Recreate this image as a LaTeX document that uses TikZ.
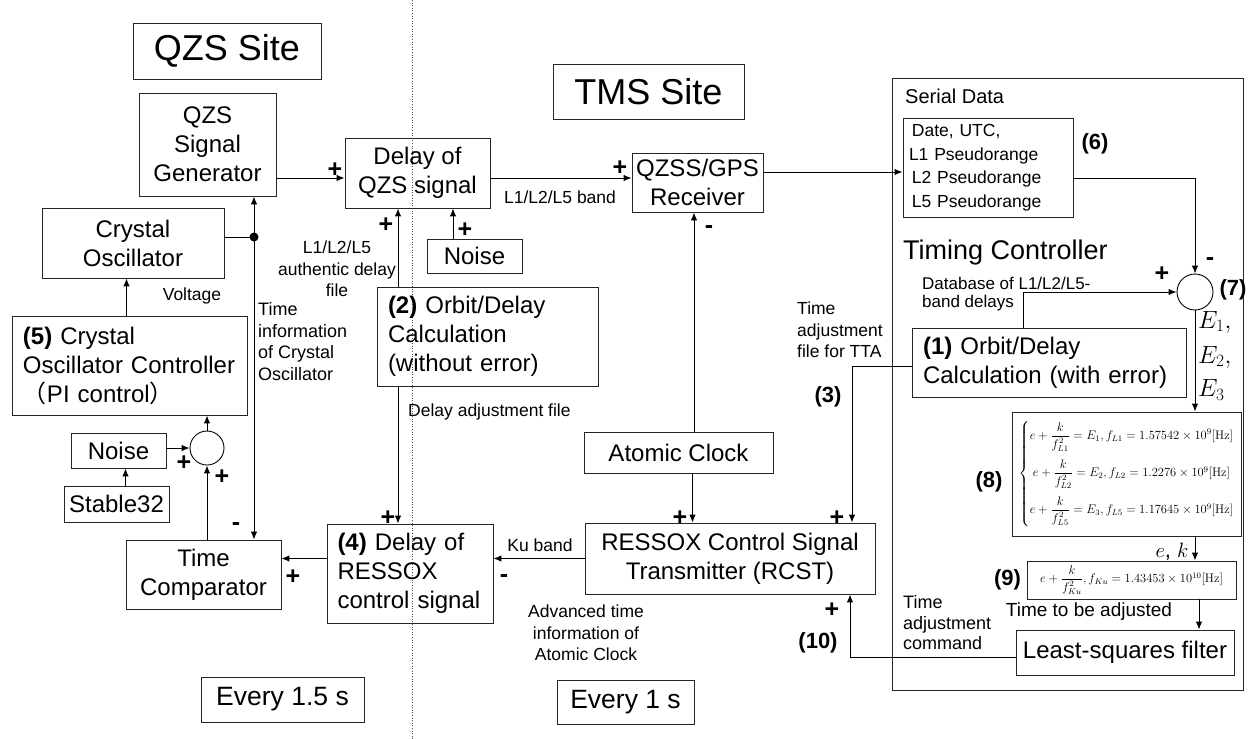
\documentclass[tikz,border=0pt]{standalone}
\usepackage{amsmath}
\usepackage{graphicx}
\usepackage[no-math]{fontspec}
\setmainfont{Liberation Sans}
\newfontfamily\cjk{Noto Sans CJK JP}
\usetikzlibrary{arrows.meta,calc}
\begin{document}
\begin{tikzpicture}[x=1pt,y=-1pt,
  box/.style={draw=black!85, line width=0.9pt, inner sep=0pt, align=center, font=\fontsize{24}{29}\selectfont},
  lbl/.style={inner sep=0pt, font=\fontsize{17.5}{21.5}\selectfont},
  bnum/.style={inner sep=0pt, font=\fontsize{22}{26}\selectfont\bfseries},
  sgn/.style={inner sep=0pt, font=\fontsize{25}{25}\selectfont\bfseries},
  arr/.style={line width=1pt, -{Latex[length=8pt,width=6.5pt]}},
  ln/.style={line width=1pt},
  sumc/.style={draw=black, line width=0.9pt, circle, minimum size=34pt, inner sep=0pt},
]
\useasboundingbox (0,0) rectangle (1251,739);
\fill[white] (0,0) rectangle (1251,739);
\draw[dotted, line width=0.6pt, black!70] (412,0) -- (412,739);

% ---------- QZS site ----------
\node[box, minimum width=188, minimum height=56, font=\fontsize{36}{40}\selectfont] (qzs) at (227,51) {QZS Site};
\node[box, minimum width=137, minimum height=103] (siggen) at (207.5,144.5) {QZS\\Signal\\Generator};
\node[box, minimum width=182, minimum height=70] (crystal) at (133,243) {Crystal\\Oscillator};
\node[box, minimum height=99, text width=213, inner xsep=11pt, align=left] (ctrl) at (129.5,365.5) {\textbf{(5)} Crystal\\Oscillator Controller\\{\cjk （}PI control{\cjk ）}};
\node[box, minimum width=95, minimum height=35] (noise1) at (118.5,450.5) {Noise};
\node[sumc] (sum1) at (207,448) {};
\node[box, minimum width=105, minimum height=36] (stable) at (116.5,504) {Stable32};
\node[box, minimum width=155, minimum height=69] (tcomp) at (203.5,574.5) {Time\\Comparator};
\node[box, minimum width=163, minimum height=45, font=\fontsize{26.5}{30}\selectfont] (ev15) at (282.5,699.5) {Every 1.5 s};

\node[box, minimum width=145, minimum height=70] (delay) at (417.5,173) {Delay of\\QZS signal};
\node[box, minimum width=95, minimum height=34] (noise2) at (474.5,256) {Noise};
\node[box, minimum height=99, text width=199, inner xsep=11pt, align=left] (orb2) at (487.5,336.5) {\textbf{(2)} Orbit/Delay\\Calculation\\(without error)};
\node[box, minimum height=99, text width=145, inner xsep=10.5pt, align=left] (del4) at (410,573.5) {\textbf{(4)} Delay of\\RESSOX\\control signal};

% ---------- TMS site ----------
\node[box, minimum width=191, minimum height=55, font=\fontsize{36}{40}\selectfont] (tms) at (648.5,91.5) {TMS Site};
\node[box, minimum width=131, minimum height=59] (rcv) at (697.5,182.5) {QZSS/GPS\\Receiver};
\node[box, minimum width=189, minimum height=41] (atomic) at (678.5,452.5) {Atomic Clock};
\node[box, minimum width=290, minimum height=71] (rcst) at (730,558.5) {RESSOX Control Signal\\Transmitter (RCST)};
\node[box, minimum width=137, minimum height=44, font=\fontsize{26.5}{30}\selectfont] (ev1) at (625.5,702) {Every 1 s};

% ---------- Timing controller ----------
\node[box, minimum width=351, minimum height=612] (tc) at (1067.5,384) {};
\node[lbl, anchor=west, font=\fontsize{20}{24}\selectfont] (serlbl) at (905,96) {Serial Data};
\node[box, minimum height=99, text width=158, inner xsep=6pt, align=left, font=\fontsize{17.5}{23.5}\selectfont] (serial) at (988,167.5) {\,Date, UTC,\\L1 Pseudorange\\\,L2 Pseudorange\\\,L5 Pseudorange};
\node[lbl, anchor=west, font=\fontsize{27}{30}\selectfont] (tclbl) at (903,253) {Timing Controller};
\node[lbl, anchor=west, align=left, font=\fontsize{17}{18.5}\selectfont] (dblbl) at (922,294) {Database of L1/L2/L5-\\band delays};
\node[sumc, minimum size=36pt] (sum7) at (1195,292) {};
\node[box, minimum height=69, text width=252, inner xsep=11pt, align=left] (orb1) at (1049,362.5) {\textbf{(1)} Orbit/Delay\\Calculation (with error)};
\node[box, minimum width=229, minimum height=124] (eq8) at (1126.5,474) {\scalebox{1.04}{\fontsize{12}{14}\selectfont$\left\{\begin{array}{@{}c@{}}
e+\dfrac{k}{f_{L1}^{2}}=E_1, f_{L1}=1.57542\times10^{9}[\mathrm{Hz}]\\[15pt]
e+\dfrac{k}{f_{L2}^{2}}=E_2, f_{L2}=1.2276\times10^{9}[\mathrm{Hz}]\\[15pt]
e+\dfrac{k}{f_{L5}^{2}}=E_3, f_{L5}=1.17645\times10^{9}[\mathrm{Hz}]
\end{array}\right.$}};
\node[box, minimum width=209, minimum height=38] (eq9) at (1131.5,580) {\scalebox{1.04}{\fontsize{12}{14}\selectfont$e+\dfrac{k}{f_{Ku}^{2}}, f_{Ku}=1.43453\times10^{10}[\mathrm{Hz}]$}};
\node[box, minimum width=218, minimum height=45] (ls) at (1125,652.5) {Least-squares filter};

% ---------- coordinates ----------
\coordinate (dot) at (254,237);
\coordinate (v2) at (398,0);

% ---------- connectors ----------
\draw[arr] ([yshift=-5pt]delay.west -| siggen.east) -- ([yshift=-5pt]delay.west);
\draw[ln] (crystal.east |- dot) -- (dot);
\fill (dot) circle (4.5pt);
\draw[arr] (dot) -- (dot |- siggen.south);
\draw[arr] (dot) -- (dot |- tcomp.north);
\draw[arr] ([xshift=-3pt]ctrl.north) -- ([xshift=-3pt]ctrl.north |- crystal.south);
\draw[arr] (sum1.north) -- (sum1.north |- ctrl.south);
\draw[arr] (noise1.east |- sum1.west) -- (sum1.west);
\draw[arr] ([xshift=9pt]stable.north) -- ([xshift=9pt]stable.north |- noise1.south);
\draw[arr] (sum1.south |- tcomp.north) -- (sum1.south);
\draw[arr] (del4.west |- rcst.west) -- (tcomp.east |- rcst.west);
\draw[arr] (v2 |- orb2.north) -- (v2 |- delay.south);
\draw[arr] (v2 |- orb2.south) -- (v2 |- del4.north);
\draw[arr] ([xshift=-21.5pt]noise2.north) -- ([xshift=-21.5pt]noise2.north |- delay.south);
\draw[arr] ([yshift=-5pt]delay.east) -- ([yshift=-5pt]delay.east -| rcv.west);
\draw[arr] ([xshift=-3.5pt]rcv.south |- atomic.north) -- ([xshift=-3.5pt]rcv.south);
\draw[arr] ([xshift=14pt]atomic.south) -- ([xshift=14pt]atomic.south |- rcst.north);
\draw[arr] (rcst.west) -- (rcst.west -| del4.east);
\draw[arr] ([yshift=10.5pt]rcv.east) -- ([yshift=10.5pt]rcv.east -| serial.west);
\draw[arr] ([yshift=-10.5pt]serial.east) -| (sum7.north);
\draw[arr] ([xshift=-26pt]orb1.north) |- (sum7.west);
\draw[arr] (sum7.south) -- (sum7.south |- eq8.north);
\draw[arr] ([yshift=-3.5pt]orb1.west) -| ([xshift=122pt]rcst.north);
\draw[arr] (sum7.south |- eq8.south) -- (sum7.south |- eq9.north);
\draw[arr] ([xshift=67.5pt]eq9.south) -- ([xshift=67.5pt]eq9.south |- ls.north);
\draw[arr] ([yshift=-4.5pt]ls.west) -| ([xshift=120pt]rcst.south);

% ---------- labels ----------
\node[lbl, align=center] (l1) at (337,269) {L1/L2/L5\\authentic delay\\file};
\node[lbl] (l2) at (192,296) {Voltage};
\node[lbl, anchor=west, align=left, font=\fontsize{18}{21.7}\selectfont] (l3) at (258,341.5) {Time\\information\\of Crystal\\Oscillator};
\node[lbl, anchor=west] (l4) at (408,412) {Delay adjustment file};
\node[lbl] (l5) at (560,197) {L1/L2/L5 band};
\node[lbl] (l6) at (540,545) {Ku band};
\node[lbl, align=center] (l7) at (586,633) {Advanced time\\information of\\Atomic Clock};
\node[lbl, anchor=west, align=left] (l8) at (797,330) {Time\\adjustment\\file for TTA};
\node[lbl, anchor=west, align=left, font=\fontsize{18}{20.5}\selectfont] (l9) at (903,623) {Time\\adjustment\\command};
\node[lbl, font=\fontsize{19}{22}\selectfont] (l10) at (1089,612) {Time to be adjusted};
\node[lbl, font=\fontsize{22}{26}\selectfont] (l11) at (1172,552) {$e$, $k$};
\node[lbl, anchor=west, font=\fontsize{24}{28}\selectfont] (e1) at (1198,322) {$E_1,$};
\node[lbl, anchor=west, font=\fontsize{24}{28}\selectfont] (e2) at (1198,357) {$E_2,$};
\node[lbl, anchor=west, font=\fontsize{24}{28}\selectfont] (e3) at (1198,390) {$E_3$};

\node[bnum] (n6) at (1095,144) {(6)};
\node[bnum] (n7) at (1233,290) {(7)};
\node[bnum] (n8) at (989,482) {(8)};
\node[bnum] (n9) at (1007.5,580) {(9)};
\node[bnum] (n3) at (828,397) {(3)};
\node[bnum] (n10) at (818,643) {(10)};

% ---------- signs ----------
\node[sgn] (s1) at (335,170) {+};
\node[sgn] (s2) at (620,168) {+};
\node[sgn] (s3) at (386,225) {+};
\node[sgn] (s4) at (465,230) {+};
\node[sgn] (s5) at (709,230) {-};
\node[sgn] (s6) at (388,518) {+};
\node[sgn] (s7) at (680,518) {+};
\node[sgn] (s8) at (837,518) {+};
\node[sgn] (s9) at (832,610) {+};
\node[sgn] (s10) at (504,579) {-};
\node[sgn] (s11) at (293,577) {+};
\node[sgn] (s12) at (236,527) {-};
\node[sgn] (s13) at (184,463) {+};
\node[sgn] (s14) at (222,477) {+};
\node[sgn] (s15) at (1210,262) {-};
\node[sgn] (s16) at (1162,274) {+};
\end{tikzpicture}
\end{document}
